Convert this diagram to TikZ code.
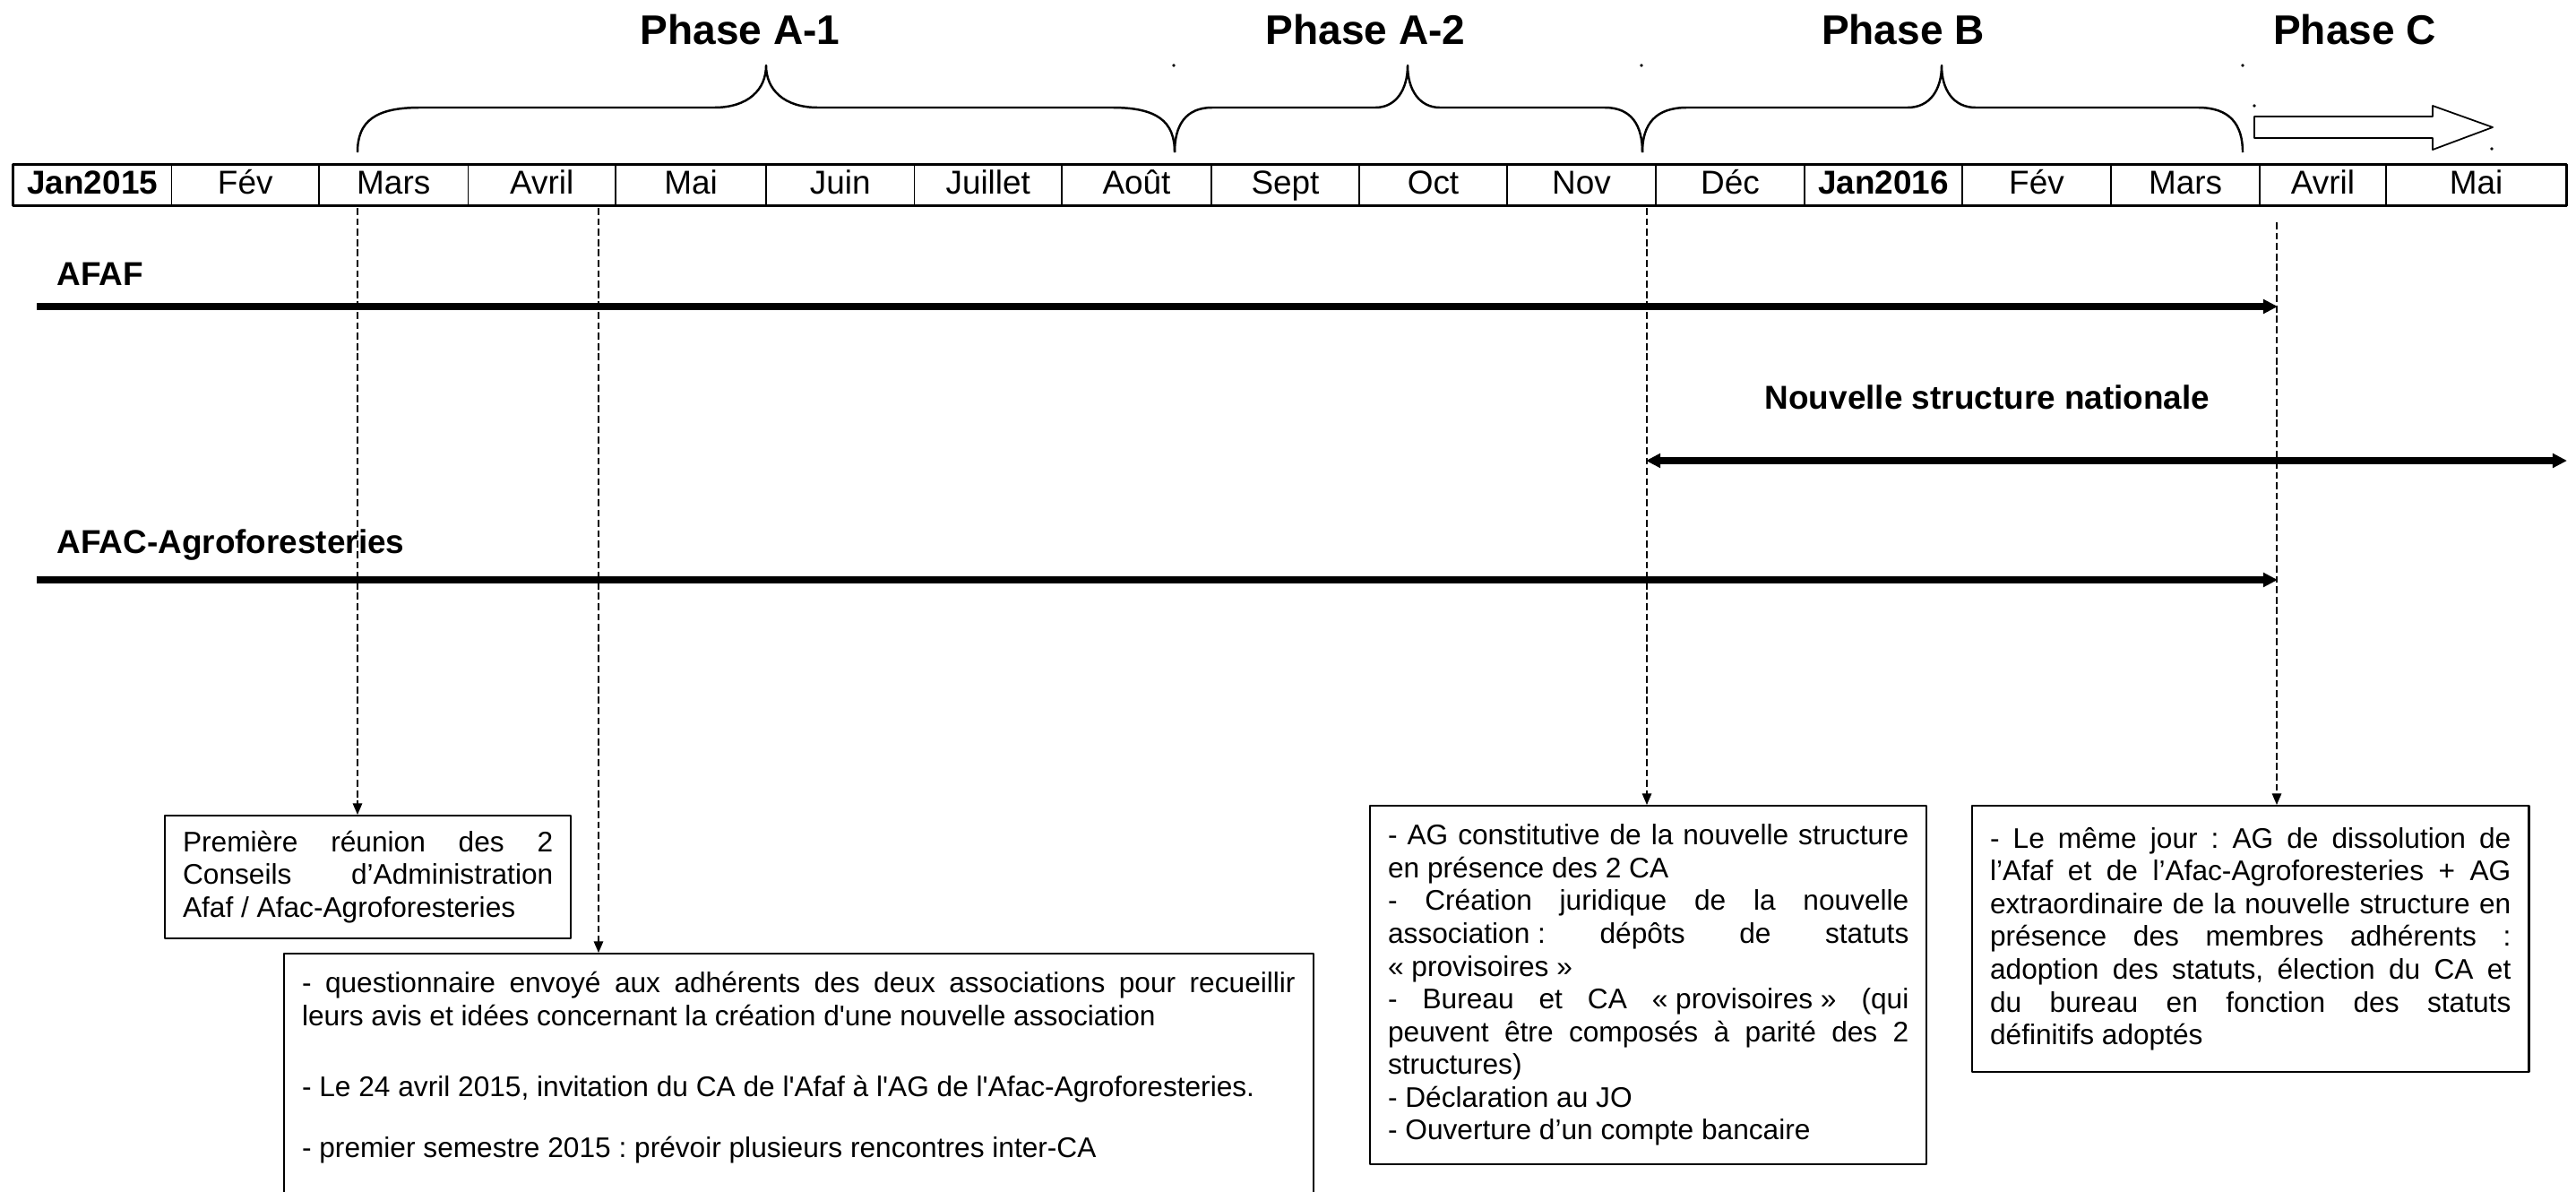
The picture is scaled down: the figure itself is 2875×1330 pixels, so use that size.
\documentclass[tikz,border=0pt]{standalone}
\usepackage{fontspec}
\setmainfont{Liberation Sans}
\usetikzlibrary{arrows.meta}
% apostrophe droite (sans ligature TeX) pour le cadre du milieu
\font\straightq="Liberation Sans" at 9pt
\newcommand{\sq}{{\straightq'}}
\newcommand{\nbs}{\kern0.278em}
\setlength{\parindent}{0pt}
\frenchspacing
\hyphenpenalty=10000 \exhyphenpenalty=10000 \tolerance=10000
\begin{document}
\begin{tikzpicture}[x=0.01cm, y=-0.01cm, line join=round,
    mois/.style={draw, line width=0.4pt, inner sep=0pt, minimum height=0.45cm,
      text height=7.6pt, text depth=2pt, font=\fontsize{10.5}{12}\selectfont},
    etiquette/.style={inner sep=0pt, anchor=base west, font=\fontsize{10.5}{12}\selectfont\bfseries},
    phase/.style={inner sep=0pt, anchor=base, font=\fontsize{13.1}{15}\selectfont\bfseries},
    accolade/.style={line width=0.7pt},
    evenement/.style={draw, line width=0.6pt, anchor=north west, align=justify,
      inner xsep=0.2cm, inner ysep=0pt, font=\fontsize{9}{10.4}\selectfont},
    pointille/.style={line width=0.35pt, dash pattern=on 2.2pt off 1.1pt,
      -{Triangle[length=3.6pt,width=3pt]}},
    fleche/.style={line width=2.2pt, -{Triangle[length=4.6pt,width=4.4pt]}}]
  \useasboundingbox (0,0) rectangle (2875,1330);
  % Frise des mois
  \foreach \xa/\xb/\nom [count=\i] in {15/191.5/\textbf{Jan2015}, 191.5/356/Fév,
      356/522.5/Mars, 522.5/687/Avril, 687/855/Mai, 855/1020.5/Juin,
      1020.5/1185/Juillet, 1185/1352/Août, 1352/1517/Sept, 1517/1682/Oct,
      1682/1848/Nov, 1848/2014/Déc, 2014/2190/\textbf{Jan2016}, 2190/2356/Fév,
      2356/2522/Mars, 2522/2663/Avril, 2663/2864/Mai}
    \node[mois, minimum width={(\xb-\xa)*0.01cm}] (m\i) at ({(\xa+\xb)/2},206.5) {\nom};
  \draw[line width=0.9pt] (m1.north west) rectangle (m17.south east);
  % Phases
  \node[phase] (pA1) at (826,50) {Phase A-1};
  \node[phase] (pA2) at (1524,50) {Phase A-2};
  \node[phase] (pB) at (2124,50) {Phase B};
  \node[phase] (pC) at (2628,50) {Phase C};
  % Accolades
  \draw[accolade] (399,170) .. controls (399,135) and (419,120) .. (469,120) -- (797,120)
    .. controls (835,120) and (855,100) .. (855,73) .. controls (855,100) and (875,120) .. (913,120)
    -- (1241,120) .. controls (1291,120) and (1311,135) .. (1311,170);
  \draw[accolade] (1311,170) .. controls (1311,140) and (1323,120) .. (1353,120) -- (1535,120)
    .. controls (1558,120) and (1571,100) .. (1571,73) .. controls (1571,100) and (1584,120) .. (1607,120)
    -- (1791,120) .. controls (1821,120) and (1833,140) .. (1833,170);
  \draw[accolade] (1833,170) .. controls (1833,138) and (1848,120) .. (1883,120) -- (2129,120)
    .. controls (2154,120) and (2167,100) .. (2167,73) .. controls (2167,100) and (2180,120) .. (2205,120)
    -- (2453,120) .. controls (2488,120) and (2503,138) .. (2503,170);
  \draw[line width=0.5pt, fill=white] (2516,130) -- (2715,130) -- (2715,118) -- (2782,142)
    -- (2715,167) -- (2715,154) -- (2516,154) -- cycle;
  \foreach \p in {(1310,73), (1832,73), (2503,73), (2516,118), (2781,166)}
    \fill \p circle (0.55pt);
  % Structures
  \node[etiquette] (afaf) at (63,318) {AFAF};
  \node[etiquette] (afac) at (63,617) {AFAC-Agroforesteries};
  \node[etiquette, anchor=base] (nsn) at (2218,456) {Nouvelle structure nationale};
  \coordinate (a1) at (41,342);
  \coordinate (a2) at (2542,342);
  \coordinate (b1) at (41,647);
  \coordinate (b2) at (2542,647);
  \coordinate (n1) at (1837,514);
  \coordinate (n2) at (2865,514);
  \draw[fleche] (a1) -- (a2);
  \draw[fleche] (b1) -- (b2);
  \draw[fleche, {Triangle[length=4.6pt,width=4.4pt]}-{Triangle[length=4.6pt,width=4.4pt]}] (n1) -- (n2);
  % Evenements
  \node[evenement, text width=4.13cm, minimum height=1.37cm] (ev1) at (183,909)
    {Première réunion des 2\linebreak Conseils d’Administration\linebreak Afaf / Afac-Agroforesteries};
  \node[evenement, text width=11.08cm, minimum height=2.84cm] (ev2) at (316,1063)
    {- questionnaire envoyé aux adhérents des deux associations pour recueillir\linebreak
     leurs avis et idées concernant la création d\sq une nouvelle association\par\vspace{12pt}
     - Le 24 avril 2015, invitation du CA de l\sq Afaf à l\sq AG de l\sq Afac-Agroforesteries.\par\vspace{9pt}
     - premier semestre 2015 : prévoir plusieurs rencontres inter-CA\par\mbox{}};
  \node[evenement, text width=5.81cm, minimum height=4.0cm] (ev3) at (1528,898)
    {- AG constitutive de la nouvelle structure\linebreak en présence des 2 CA\par
     - Création juridique de la nouvelle\linebreak association\nbs: dépôts de statuts\linebreak «\nbs provisoires\nbs»\par
     - Bureau et CA «\nbs provisoires\nbs» (qui\linebreak peuvent être composés à parité des 2\linebreak structures)\par
     - Déclaration au JO\par
     - Ouverture d’un compte bancaire};
  \node[evenement, text width=5.81cm, minimum height=2.97cm] (ev4) at (2200,898)
    {- Le même jour : AG de dissolution de\linebreak l’Afaf et de l’Afac-Agroforesteries + AG\linebreak
     extraordinaire de la nouvelle structure en\linebreak présence des membres adhérents :\linebreak
     adoption des statuts, élection du CA et\linebreak du bureau en fonction des statuts\linebreak définitifs adoptés};
  % Renvois
  \coordinate (t1) at (399,232);
  \coordinate (t2) at (668,232);
  \coordinate (t3) at (1838,232);
  \coordinate (t4) at (2541,248);
  \draw[pointille] (t1) -- (t1 |- ev1.north);
  \draw[pointille] (t2) -- (t2 |- ev2.north);
  \draw[pointille] (t3) -- (t3 |- ev3.north);
  \draw[pointille] (t4) -- (t4 |- ev4.north);
\end{tikzpicture}
\end{document}
